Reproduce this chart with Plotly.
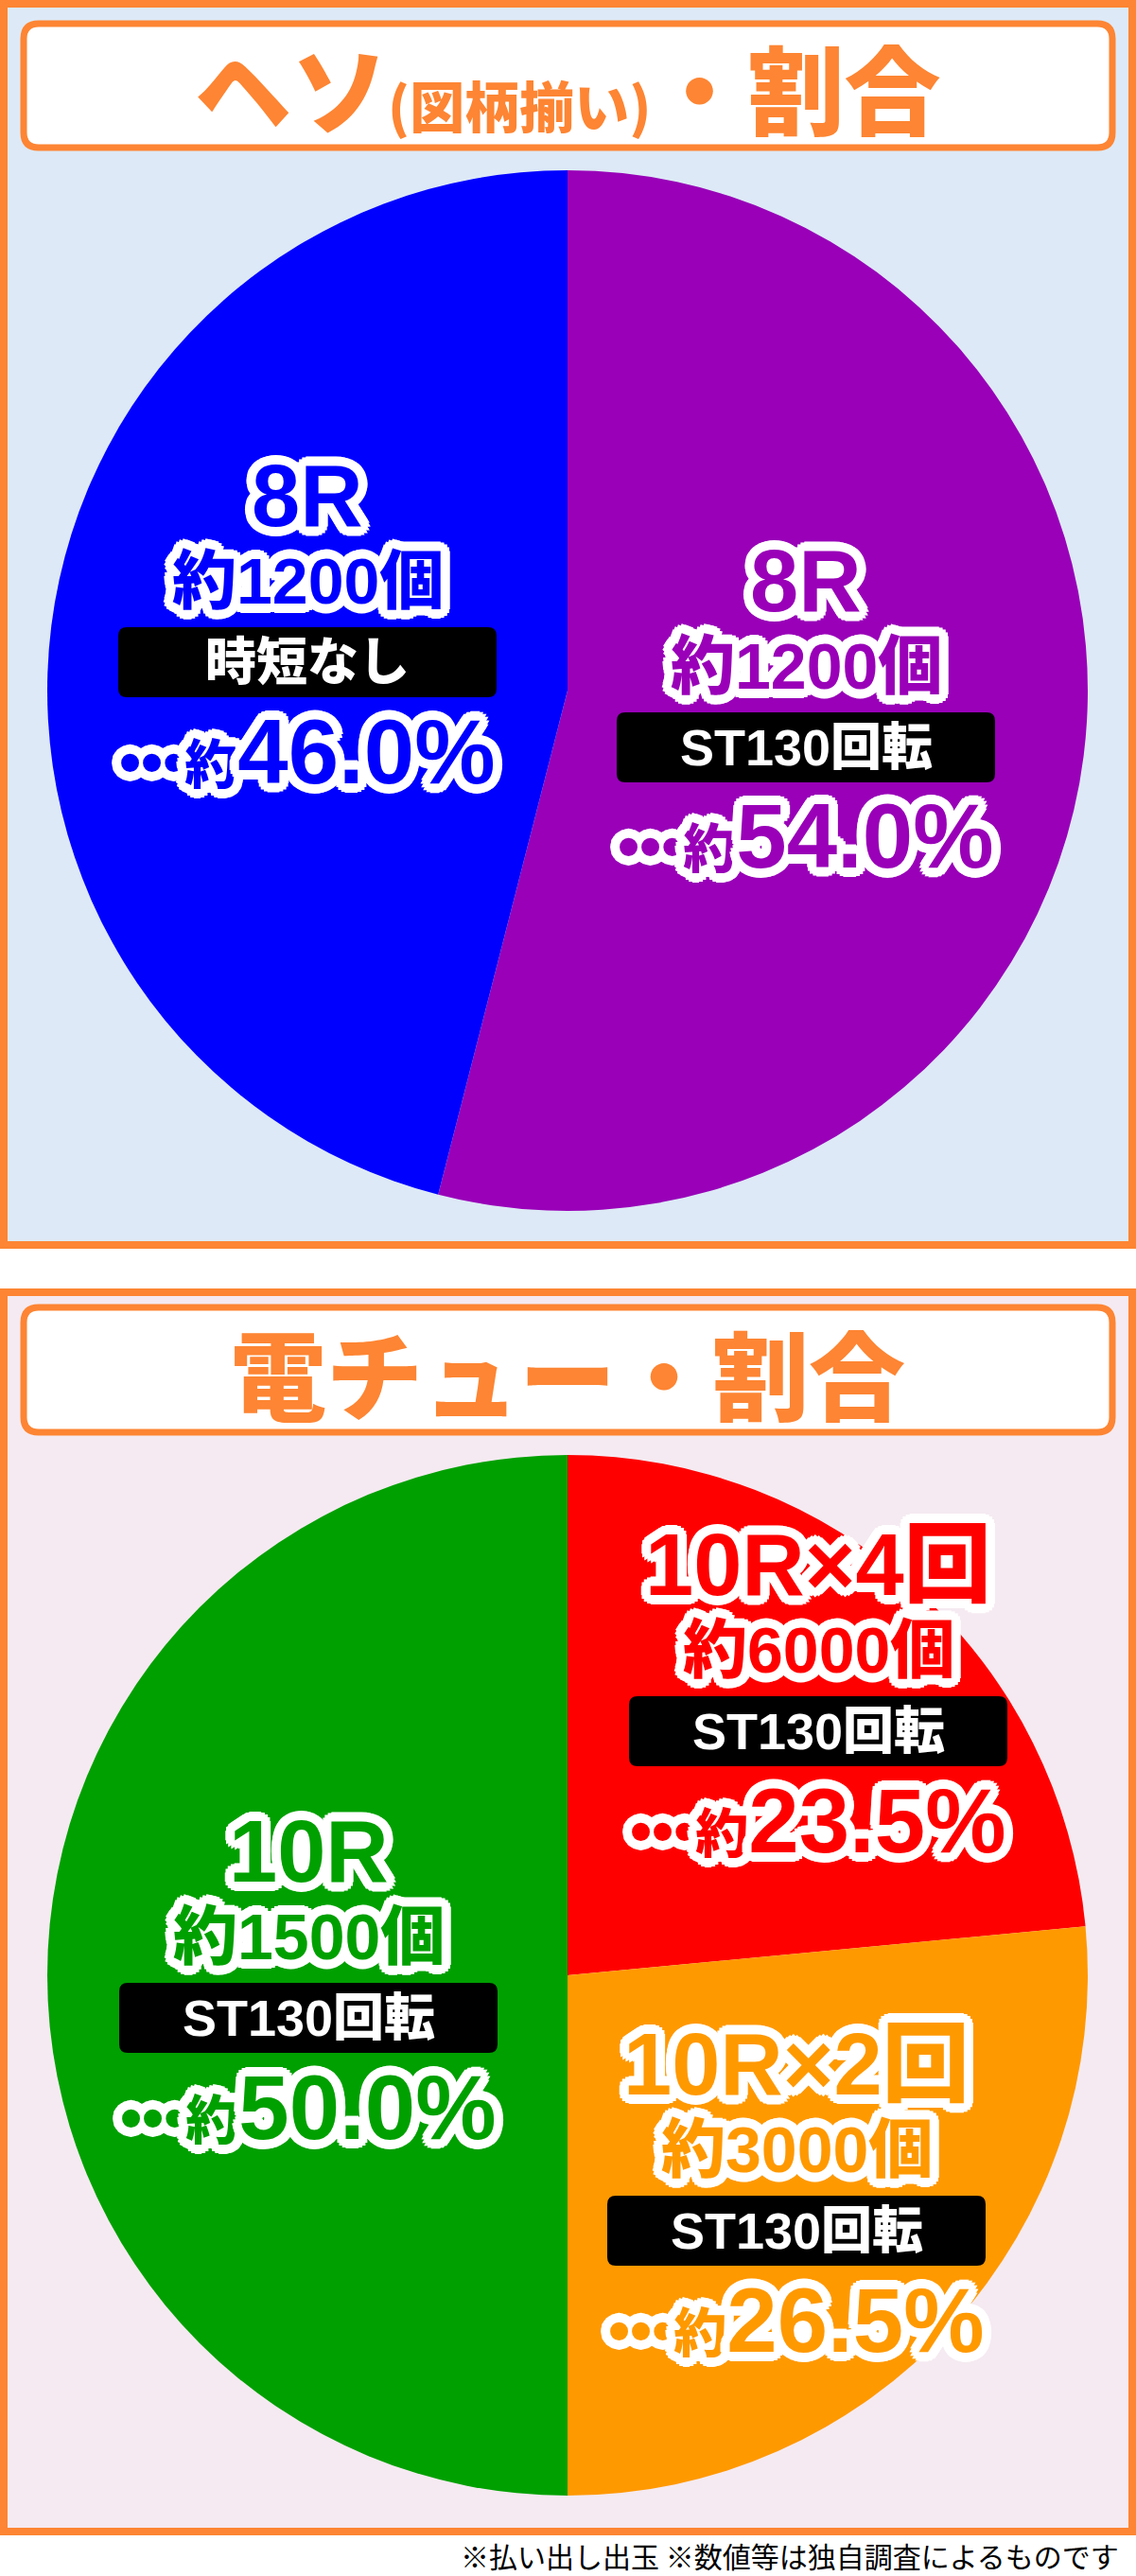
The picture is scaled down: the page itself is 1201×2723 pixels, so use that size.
import math
import plotly.graph_objects as go

W, H = 1201, 2723

# ヘソ（図柄揃い）
heso_rounds = ["8R", "8R"]
heso_counts = ["約1200個", "約1200個"]
heso_st = ["ST130回転", "時短なし"]
heso_values = [54.0, 46.0]
heso_colors = ["#9900b8", "#0000ff"]

# 電チュー
den_rounds = ["10R×4回", "10R×2回", "10R"]
den_counts = ["約6000個", "約3000個", "約1500個"]
den_st = ["ST130回転", "ST130回転", "ST130回転"]
den_values = [23.5, 26.5, 50.0]
den_colors = ["#ff0000", "#ff9900", "#00a000"]

title1 = "ヘソ<span style='font-size:58px'>(図柄揃い)</span>・割合"
title2 = "電チュー・割合"
footnote = "※払い出し出玉 ※数値等は独自調査によるものです"

ORANGE = "#fd8533"
BG1 = "#dde9f6"
BG2 = "#f5eaf1"
LABEL_FONT = "Liberation Sans, Arial, Noto Sans CJK JP"
CJK_FONT = "Noto Sans CJK JP"


def px(x):
    return x / W


def py(y):
    return 1 - y / H


def rrect(x0, y0, x1, y1, r):
    pts = [("M", [(x0 + r, y0)]), ("L", [(x1 - r, y0)]), ("Q", [(x1, y0), (x1, y0 + r)]),
           ("L", [(x1, y1 - r)]), ("Q", [(x1, y1), (x1 - r, y1)]), ("L", [(x0 + r, y1)]),
           ("Q", [(x0, y1), (x0, y1 - r)]), ("L", [(x0, y0 + r)]), ("Q", [(x0, y0), (x0 + r, y0)])]
    s = ""
    for cmd, ps in pts:
        s += cmd + " " + " ".join(f"{px(a):.5f},{py(b):.5f}" for a, b in ps) + " "
    return s + "Z"


def outline(color="white", rad=(3, 6, 9, 10)):
    parts = []
    for r in rad:
        for k in range(16):
            a = 2 * math.pi * k / 16
            parts.append(f"{r * math.cos(a):.1f}px {r * math.sin(a):.1f}px 0 {color}")
    return ", ".join(parts)


shapes = []
annotations = []

# panels
for (y0, y1, bg) in [(4, 1316, BG1), (1366, 2676, BG2)]:
    shapes.append(dict(type="rect", xref="paper", yref="paper", layer="below",
                       x0=px(4), x1=px(1197), y0=py(y1), y1=py(y0),
                       fillcolor=bg, line=dict(color=ORANGE, width=8)))
for (y0, y1) in [(25, 156), (1382, 1514)]:
    shapes.append(dict(type="path", xref="paper", yref="paper", layer="below",
                       path=rrect(25, y0, 1176, y1, 16),
                       fillcolor="white", line=dict(color=ORANGE, width=7)))

for txt, yc in [(title1, 91), (title2, 1449)]:
    annotations.append(dict(text=txt, xref="paper", yref="paper", x=px(600), y=py(yc),
                            showarrow=False, xanchor="center", yanchor="middle",
                            font=dict(family=CJK_FONT, size=102, color=ORANGE, weight=900)))

fig = go.Figure()
fig.add_trace(go.Pie(values=heso_values, marker=dict(colors=heso_colors, line=dict(width=0)),
                     sort=False, direction="clockwise", rotation=0, textinfo="none",
                     hoverinfo="skip",
                     domain=dict(x=[px(50), px(1150)], y=[py(1280), py(180)])))
fig.add_trace(go.Pie(values=den_values, marker=dict(colors=den_colors, line=dict(width=0)),
                     sort=False, direction="clockwise", rotation=0, textinfo="none",
                     hoverinfo="skip",
                     domain=dict(x=[px(50), px(1150)], y=[py(2638), py(1538)])))

# label anchors: centre x and y of the first line
heso_pos = [(852, 614), (325, 524)]
den_pos = [(865, 1654), (842, 2182), (326, 1957)]

shadow = outline()


def add_label(x, y0, rnd, cnt, st, val, color):
    f = dict(family=LABEL_FONT, color=color, weight=900, shadow=shadow)
    annotations.append(dict(text=rnd, x=px(x), y=py(y0), font=dict(f, size=92)))
    annotations.append(dict(text=cnt, x=px(x), y=py(y0 + 90), font=dict(f, size=68)))
    by = y0 + 176
    shapes.append(dict(type="path", xref="paper", yref="paper", layer="above",
                       path=rrect(x - 200, by - 37, x + 200, by + 37, 9),
                       fillcolor="black", line=dict(width=0)))
    annotations.append(dict(text=st, x=px(x), y=py(by),
                            font=dict(family=LABEL_FONT, color="white", size=54, weight=900)))
    pct = (f"<span style='font-size:66px'>•••</span><span style='font-size:56px'>約</span>"
           f"{val:.1f}%")
    annotations.append(dict(text=pct, x=px(x), y=py(y0 + 270), font=dict(f, size=96)))


for i in range(len(heso_values)):
    add_label(heso_pos[i][0], heso_pos[i][1], heso_rounds[i], heso_counts[i], heso_st[i],
              heso_values[i], heso_colors[i])
for i in range(len(den_values)):
    add_label(den_pos[i][0], den_pos[i][1], den_rounds[i], den_counts[i], den_st[i],
              den_values[i], den_colors[i])

for a in annotations:
    a.setdefault("xref", "paper")
    a.setdefault("yref", "paper")
    a.setdefault("showarrow", False)
    a.setdefault("xanchor", "center")
    a.setdefault("yanchor", "middle")

annotations.append(dict(text=footnote, xref="paper", yref="paper", x=px(1185), y=py(2701),
                        showarrow=False, xanchor="right", yanchor="middle",
                        font=dict(family=CJK_FONT, size=30, color="black")))

fig.update_layout(width=W, height=H, margin=dict(l=0, r=0, t=0, b=0),
                  paper_bgcolor="white", plot_bgcolor="white", showlegend=False,
                  shapes=shapes, annotations=annotations)

fig.write_html("out.html", config=dict(displayModeBar=False),
               post_script="document.body.style.margin='0';document.body.style.overflow='hidden';")
